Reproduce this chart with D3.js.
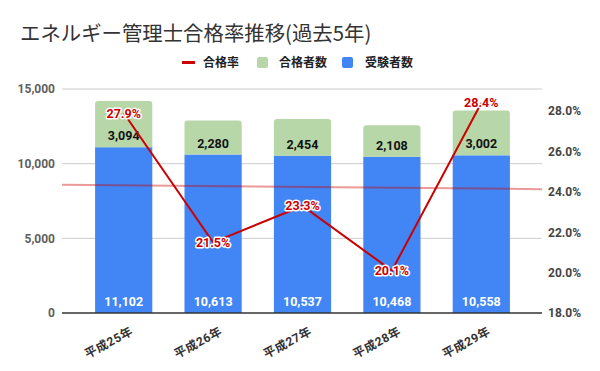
<!DOCTYPE html>
<html>
<head>
<meta charset="utf-8">
<script src="https://cdn.jsdelivr.net/npm/d3@7"></script>
<style>
  body { margin: 0; background: #fff; }
  svg { font-family: Roboto, "Noto Sans CJK JP", sans-serif; }
</style>
</head>
<body>
<div id="chart"></div>
<script>
// data
var years = ["平成25年", "平成26年", "平成27年", "平成28年", "平成29年"];
var examinees = [11102, 10613, 10537, 10468, 10558];   // 受験者数
var passers = [3094, 2280, 2454, 2108, 3002];          // 合格者数
var passRate = [27.9, 21.5, 23.3, 20.1, 28.4];         // 合格率 (%)
var leftTicks = [0, 5000, 10000, 15000];
var rightTicks = [18, 20, 22, 24, 26, 28];

var width = 600, height = 371;
var plot = {left: 62, right: 542, top: 89, bottom: 313};

var svg = d3.select("#chart").append("svg")
    .attr("width", width)
    .attr("height", height);

// scales
var x = d3.scaleBand()
    .domain(years)
    .range([79, 526])
    .paddingInner(0.36)
    .paddingOuter(0.18);

var y = d3.scaleLinear().domain([0, 15000]).range([plot.bottom, plot.top]);
var yR = d3.scaleLinear().domain([18, 29.09]).range([plot.bottom, plot.top]);

var fmt = d3.format(",");

// title
svg.append("text")
    .attr("x", 20).attr("y", 41)
    .style("font-family", "'Noto Sans CJK JP', serif")
    .style("font-size", "20.4px")
    .style("fill", "#333")
    .text("エネルギー管理士合格率推移(過去5年)");

// legend
var legend = svg.append("g").style("font-size", "12px").style("font-weight", "bold").style("fill", "#222");
legend.append("rect").attr("x", 182).attr("y", 61).attr("width", 13).attr("height", 3).attr("fill", "#cc0000");
legend.append("text").attr("x", 203).attr("y", 67).text("合格率");
legend.append("rect").attr("x", 257).attr("y", 57).attr("width", 11).attr("height", 11).attr("rx", 2).attr("fill", "#b7d7a8");
legend.append("text").attr("x", 279).attr("y", 67).text("合格者数");
legend.append("rect").attr("x", 342).attr("y", 57).attr("width", 11).attr("height", 11).attr("rx", 2).attr("fill", "#4285f4");
legend.append("text").attr("x", 365).attr("y", 67).text("受験者数");

// gridlines
svg.append("g").selectAll("line")
    .data(leftTicks.slice(1))
    .enter().append("line")
    .attr("x1", plot.left).attr("x2", plot.right)
    .attr("y1", d => y(d)).attr("y2", d => y(d))
    .attr("stroke", "#cccccc").attr("stroke-width", 1);

// left axis
var yAxis = d3.axisLeft(y).tickValues(leftTicks).tickFormat(fmt).tickSize(0).tickPadding(7);
svg.append("g")
    .attr("transform", "translate(" + plot.left + ",0)")
    .call(yAxis)
    .call(g => g.select(".domain").remove())
    .selectAll("text")
    .style("font-family", "Roboto, sans-serif")
    .style("font-size", "12px").style("font-weight", "bold").style("fill", "#5f5f5f");

// right axis
var yRAxis = d3.axisRight(yR).tickValues(rightTicks).tickFormat(d => d.toFixed(1) + "%").tickSize(0).tickPadding(6);
svg.append("g")
    .attr("transform", "translate(" + plot.right + ",0)")
    .call(yRAxis)
    .call(g => g.select(".domain").remove())
    .selectAll("text")
    .style("font-family", "Roboto, sans-serif")
    .style("font-size", "12px").style("font-weight", "bold").style("fill", "#444");

// stacked bars
var bw = x.bandwidth();
var bars = svg.append("g");
bars.selectAll(".blue")
    .data(years)
    .enter().append("rect")
    .attr("class", "blue")
    .attr("x", d => x(d))
    .attr("y", (d, i) => y(examinees[i]))
    .attr("width", bw)
    .attr("height", (d, i) => y(0) - y(examinees[i]))
    .attr("fill", "#4285f4");

// green part with rounded top corners
bars.selectAll(".green")
    .data(years)
    .enter().append("path")
    .attr("class", "green")
    .attr("fill", "#b7d7a8")
    .attr("d", function(d, i) {
        var x0 = x(d), x1 = x(d) + bw;
        var yt = y(examinees[i] + passers[i]), yb = y(examinees[i]);
        var r = 3;
        return "M" + x0 + "," + yb + "V" + (yt + r) + "Q" + x0 + "," + yt + " " + (x0 + r) + "," + yt +
            "H" + (x1 - r) + "Q" + x1 + "," + yt + " " + x1 + "," + (yt + r) + "V" + yb + "Z";
    });

// baseline
svg.append("line")
    .attr("x1", plot.left).attr("x2", plot.right)
    .attr("y1", y(0)).attr("y2", y(0))
    .attr("stroke", "#333").attr("stroke-width", 1.5);

// bar labels
svg.append("g").selectAll("text")
    .data(years)
    .enter().append("text")
    .attr("x", d => x(d) + bw / 2)
    .attr("y", (d, i) => y(examinees[i]) - 7)
    .attr("text-anchor", "middle")
    .style("font-size", "12.5px").style("font-weight", "bold").style("fill", "#111")
    .text((d, i) => fmt(passers[i]));

svg.append("g").selectAll("text")
    .data(years)
    .enter().append("text")
    .attr("x", d => x(d) + bw / 2)
    .attr("y", y(0) - 7)
    .attr("text-anchor", "middle")
    .style("font-size", "12.5px").style("font-weight", "bold").style("fill", "#fff")
    .text((d, i) => fmt(examinees[i]));

// x labels
svg.append("g").selectAll("text")
    .data(years)
    .enter().append("text")
    .attr("transform", d => "translate(" + (x(d) + bw / 2 + 10) + ",334) rotate(-28)")
    .attr("text-anchor", "end")
    .style("font-size", "12px").style("font-weight", "bold").style("fill", "#333")
    .style("letter-spacing", "0.5px")
    .text(d => d);

// trendline of pass rate (linear regression over category index)
var xi = d3.scaleLinear().domain([0, years.length - 1])
    .range([x(years[0]) + bw / 2, x(years[years.length - 1]) + bw / 2]);
var mx = d3.mean(passRate, (d, i) => i), my = d3.mean(passRate);
var slope = d3.sum(passRate, (d, i) => (i - mx) * (d - my)) / d3.sum(passRate, (d, i) => (i - mx) * (i - mx));
var icpt = my - slope * mx;
var t0 = xi.invert(plot.left), t1 = xi.invert(plot.right);
svg.append("line")
    .attr("x1", xi(t0)).attr("y1", yR(icpt + slope * t0))
    .attr("x2", xi(t1)).attr("y2", yR(icpt + slope * t1))
    .attr("stroke", "#cc0000").attr("stroke-opacity", 0.4).attr("stroke-width", 2);

// pass rate line
var line = d3.line()
    .x((d, i) => x(years[i]) + bw / 2)
    .y(d => yR(d));
svg.append("path")
    .datum(passRate)
    .attr("d", line)
    .attr("fill", "none")
    .attr("stroke", "#cc0000")
    .attr("stroke-width", 2);

// rate labels with white halo
svg.append("g").selectAll("text")
    .data(passRate)
    .enter().append("text")
    .attr("x", (d, i) => x(years[i]) + bw / 2)
    .attr("y", d => yR(d) + 4.5)
    .attr("text-anchor", "middle")
    .style("font-size", "12.5px").style("font-weight", "bold")
    .style("fill", "#cc0000")
    .style("stroke", "#fff").style("stroke-width", 3).style("paint-order", "stroke")
    .style("stroke-linejoin", "round")
    .text(d => d.toFixed(1) + "%");
</script>
</body>
</html>
